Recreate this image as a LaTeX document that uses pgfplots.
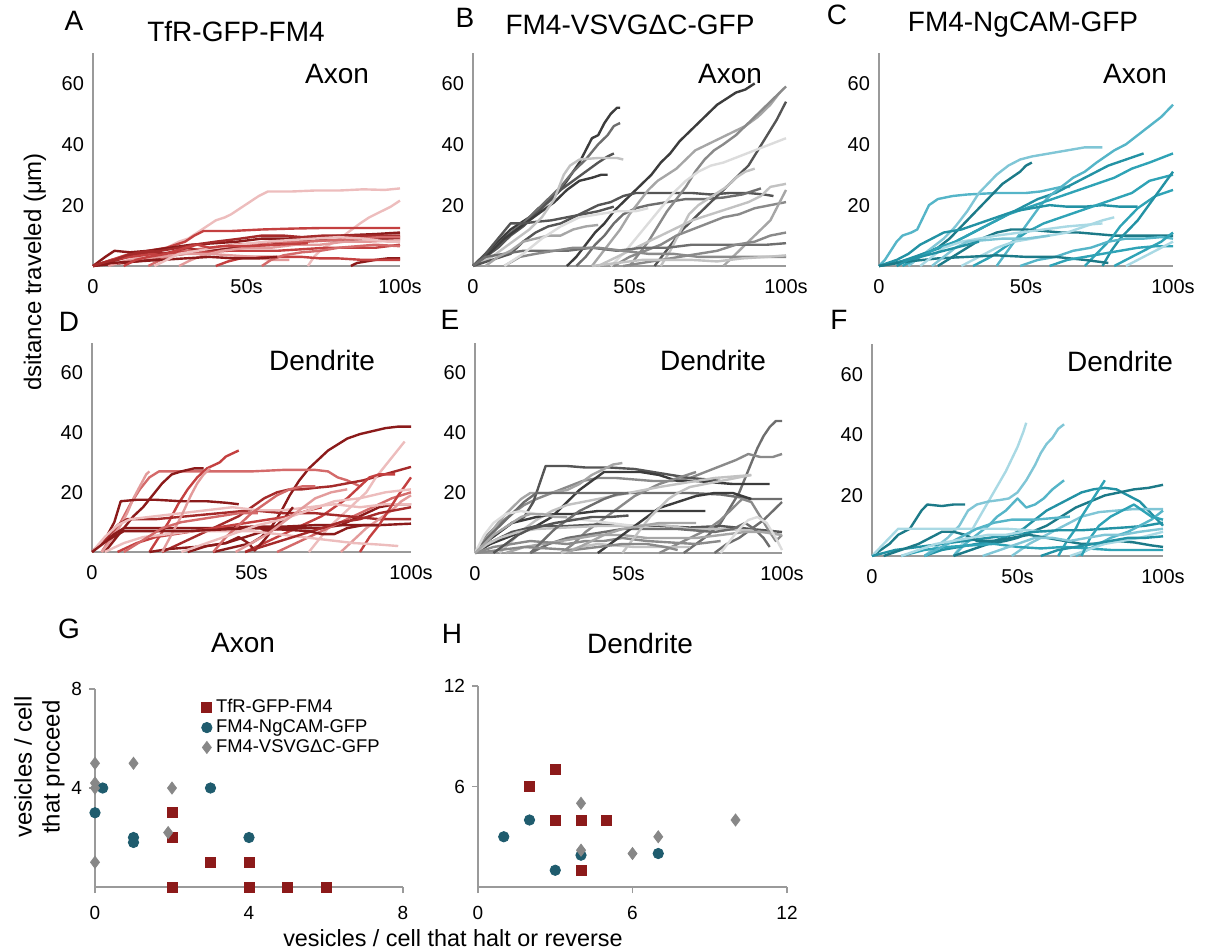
\documentclass[border=0pt]{standalone}
\usepackage{fontspec}
\setmainfont{Liberation Sans}
\usepackage{pgfplots}
\pgfplotsset{compat=1.18}

\definecolor{axgray}{HTML}{9A9A9A}
\definecolor{rA}{HTML}{8B1A1A}
\definecolor{rB}{HTML}{A52A2A}
\definecolor{rC}{HTML}{C44040}
\definecolor{rD}{HTML}{D46A6A}
\definecolor{rE}{HTML}{E39B9B}
\definecolor{rF}{HTML}{EDBDBD}
\definecolor{g1}{HTML}{3C3C3C}
\definecolor{g2}{HTML}{555555}
\definecolor{g3}{HTML}{6E6E6E}
\definecolor{g4}{HTML}{8A8A8A}
\definecolor{g5}{HTML}{A6A6A6}
\definecolor{g6}{HTML}{C2C2C2}
\definecolor{g7}{HTML}{DCDCDC}
\definecolor{t1}{HTML}{1C7A88}
\definecolor{t2}{HTML}{2392A4}
\definecolor{t3}{HTML}{2FA3B6}
\definecolor{t4}{HTML}{55B5C8}
\definecolor{t5}{HTML}{80C6D6}
\definecolor{t6}{HTML}{A9D9E4}
\definecolor{sqred}{HTML}{8C1A1A}
\definecolor{circ}{HTML}{1F5C6E}
\definecolor{dia}{HTML}{878787}

\pgfplotsset{
  /pgf/number format/assume math mode=true,
  trace/.style={
    scale only axis, anchor=south west,
    axis x line=bottom, axis y line=left,
    axis line style={-, draw=axgray, line width=1.3pt},
    xmin=0, xmax=100, ymin=0, ymax=70,
    xtick={0,50,100}, xticklabels={0,50s,100s},
    ytick={20,40,60},
    major tick length=0pt,
    tick label style={font=\fontsize{10}{11}\selectfont},
    xticklabel style={yshift=-3pt},
    yticklabel style={xshift=-1pt},
    clip=false,
    every axis plot/.append style={no marks, line width=1.2pt, line join=round},
  },
  sc/.style={
    scale only axis, anchor=south west,
    axis x line=bottom, axis y line=left,
    axis line style={-, draw=axgray, line width=1pt},
    tick style={draw=axgray, line width=0.8pt},
    tick align=outside, major tick length=3pt,
    tick label style={font=\fontsize{9.5}{10}\selectfont},
    xticklabel style={yshift=-3pt},
    clip=false,
  },
}

\begin{document}
\begin{tikzpicture}
\path (0,0) rectangle (606.5pt,475pt);

% ---------- A: TfR axon
\begin{axis}[trace, at={(46.5pt,342pt)}, width=153.5pt, height=106.5pt]
\addplot[rF] coordinates {(0,0)(8,1)(15,3)(20,5)(24,6)(28,8)(31,9)(34,11)(37,13)(40,15)(43,16)(45,17)(48,19)(51,21)(54,23)(57,24.5)(65,24.5)(72,24.8)(80,24.8)(88,25.2)(95,25)(100,25.5)};
\addplot[rF] coordinates {(70,0)(72,3)(75,6)(79,8)(83,11)(87,14)(90,16)(94,18)(97,19.5)(100,21.5)};
\addplot[rC] coordinates {(0,0)(6,2)(12,4)(18,5)(24,6)(30,8)(33,10)(36,11.5)(45,11.5)(55,12)(65,12.3)(75,12.5)(85,12.5)(100,12.5)};
\addplot[rA] coordinates {(0,0)(4,3)(7,5)(12,4.5)(18,5)(25,6)(32,7)(40,7.5)(47,8)(55,9)(63,9)(70,9.5)(78,9.8)(85,10.2)(92,10.5)(100,11)};
\addplot[rB] coordinates {(0,0)(8,2)(15,4)(22,5)(28,6)(33,7)(40,8)(48,9)(55,10)(62,10)(68,9.5)(75,10)(82,10)(90,10)(100,10)};
\addplot[rA] coordinates {(0,0)(10,1)(18,2)(26,3.5)(34,4.5)(42,5.5)(50,6.5)(58,7)(66,8)(74,8.5)(82,8.5)(90,9)(100,9)};
\addplot[rD] coordinates {(18,0)(22,2)(26,4)(30,5)(38,6)(46,7)(54,7.5)(62,8)(70,8)(78,8.5)(86,9)(94,9.5)(100,9.5)};
\addplot[rC] coordinates {(0,0)(6,2)(12,3)(20,4)(28,4.5)(36,4.5)(44,5)(52,5)(60,5)(68,5.5)(76,6)(84,6)(92,6)(100,7)};
\addplot[rA] coordinates {(84,0)(86,1)(89,1.5)(92,2)(96,2.5)(100,2.5)};
\addplot[rC] coordinates {(40,0)(44,1.5)(50,3)(56,3)(62,3)(68,3)(74,2.5)(80,2.5)(88,2)(100,2)};
\addplot[rE] coordinates {(28,0)(32,2)(36,3.5)(42,5)(50,6)(58,6)(66,7)(74,7)(82,8)(90,8)(100,8.5)};
\addplot[rE] coordinates {(5,0)(10,1.5)(16,2.5)(22,3)(30,4)(38,4)(45,3.5)(52,3)(58,2)(64,2)};
\addplot[rD] coordinates {(55,0)(58,2)(62,3.5)(68,4.5)(74,5)(80,6)(86,6.5)(92,7)(100,6.5)};
\addplot[rA] coordinates {(0,0)(6,1)(14,1.5)(22,2)(30,2.5)(38,3)(46,2.5)(54,2.5)(60,3)};
\addplot[rB] coordinates {(0,0)(3,1)(7,2)(11,3.5)(15,4.5)(19,5)(23,4)(27,5)(31,6)(35,5)};
\addplot[rF] coordinates {(20,0)(24,2)(28,4)(34,5)(40,6)(48,7)(56,8)(64,8.5)(72,9)(80,9.5)(88,9)(96,8)(100,8)};
\addplot[rC] coordinates {(10,0)(14,2)(18,3)(24,4)(30,6)(34,7)(38,6)(42,6.5)(50,6.5)(60,7)(70,7.5)};
\end{axis}

% ---------- B: VSVG axon
\begin{axis}[trace, at={(236.5pt,342pt)}, width=156.5pt, height=106.5pt]
\addplot[g1] coordinates {(0,0)(3,3)(6,6)(9,9)(12,12)(15,14)(18,16)(21,19)(24,21)(27,24)(30,28)(32,31)(34,34)(36,38)(38,42)(40,43)(42,47)(44,50)(46,52)(47,52)};
\addplot[g3] coordinates {(0,0)(4,3)(8,7)(12,11)(16,14)(20,18)(24,22)(28,26)(32,31)(36,35)(40,40)(43,43)(45,46)(47,47)};
\addplot[g2] coordinates {(0,0)(4,3)(8,6)(12,10)(16,13)(20,17)(24,21)(28,25)(32,28)(36,31)(40,34)(43,36)(45,37)};
\addplot[g1] coordinates {(0,0)(5,4)(10,9)(14,12)(18,15)(22,18)(26,21)(30,25)(34,28)(38,29)(41,30)(43,30)};
\addplot[g2] coordinates {(0,0)(4,4)(8,9)(12,14)(16,14)(20,14.5)(25,15)(30,16)(35,17)(40,18)(45,19.5)};
\addplot[g6] coordinates {(0,0)(6,3)(10,6)(14,9)(18,12)(22,16)(26,22)(29,30)(31,33)(34,35)(40,35.5)(46,35.5)(48,35)};
\addplot[g1] coordinates {(30,0)(33,3)(36,7)(39,11)(42,14)(45,18)(48,21)(51,24)(54,27)(57,30)(60,34)(63,37)(66,41)(69,44)(72,47)(75,50)(78,53)(81,55)(84,57)(87,58)(90,60)};
\addplot[g2] coordinates {(0,0)(6,2)(12,4)(16,8)(20,11)(24,13)(28,14)(32,16)(36,18)(40,20)(44,21)(48,23)(52,24)(58,24)(64,24)(70,24)(76,23.5)(82,24)(88,24)(93,23.5)(96,23)};
\addplot[g3] coordinates {(33,0)(36,3)(39,7)(42,10)(45,14)(48,17)(52,19)(56,20)(62,21)(68,22)(74,22)(80,22.5)(86,23.5)(92,25.5)};
\addplot[g5] coordinates {(38,0)(41,4)(44,8)(47,12)(50,17)(53,21)(56,25)(59,28)(62,30)(65,32)(68,35)(71,38)(75,40)(79,42)(83,44)(87,46)(91,49)(95,53)(98,57)};
\addplot[g4] coordinates {(50,0)(53,4)(56,8)(59,13)(62,18)(65,22)(68,26)(71,31)(74,35)(77,38)(80,40)(84,43)(88,47)(92,51)(96,55)(100,59)};
\addplot[g2] coordinates {(58,0)(61,4)(64,8)(67,12)(70,15)(73,18)(76,21)(79,24)(82,27)(85,30)(88,33)(91,38)(94,43)(97,48)(100,54)};
\addplot[g7] coordinates {(44,0)(48,4)(52,9)(56,14)(60,19)(64,24)(68,28)(72,31)(76,33)(80,34)(85,36)(90,38)(95,40)(100,42)};
\addplot[g6] coordinates {(60,0)(63,5)(66,11)(69,17)(72,20)(75,22)(78,24)(81,26)(84,29)(87,31)(90,32)};
\addplot[g6] coordinates {(40,0)(46,3)(52,6)(58,9)(64,12)(70,15)(76,17)(82,19)(88,21)(92,23)(95,26)(100,27)};
\addplot[g4] coordinates {(45,0)(50,3)(55,5)(60,7)(65,10)(70,12)(75,14)(80,16)(85,17)(90,19)(95,20)(100,21)};
\addplot[g5] coordinates {(80,0)(83,3)(86,6)(89,9)(92,12)(95,15)(97,19)(100,25)};
\addplot[g3] coordinates {(0,0)(4,3)(10,4)(16,5)(22,5)(30,5)(38,6)(46,5)(54,6)(62,6)(70,7)(78,7)(86,7)(94,7)(100,7.5)};
\addplot[g4] coordinates {(48,0)(54,1)(60,2)(66,3)(72,4)(78,5)(84,7)(90,8)(95,10)(100,11)};
\addplot[g4] coordinates {(10,0)(15,3)(20,4)(26,5)(32,6)(40,6)(48,5)(56,4)(64,4)(72,3)(80,3)(90,3)(100,3)};
\addplot[g6] coordinates {(38,0)(46,1)(54,2)(62,2)(70,2)(78,1.5)(86,2.5)(94,3)(100,3.5)};
\addplot[g5] coordinates {(4,0)(8,3)(12,5)(16,8)(20,9)(24,10)(28,10)(32,12)(36,13)(40,13.5)};
\addplot[g7] coordinates {(10,0)(16,4)(22,9)(28,13)(34,16)(40,17)(46,18)(52,18)(56,19)};
\end{axis}

% ---------- C: NgCAM axon
\begin{axis}[trace, at={(439.5pt,342pt)}, width=147pt, height=106.5pt]
\addplot[t4] coordinates {(0,0)(2,2)(4,5)(6,8)(8,10)(11,11)(13,12)(15,16)(17,20)(20,22)(25,23)(30,23.5)(40,24)(50,24)(55,24.5)(62,26)(65,26)};
\addplot[t1] coordinates {(0,0)(5,1)(10,2)(15,4)(20,6)(24,9)(28,13)(32,17)(36,21)(39,24)(42,27)(45,29)(48,31)(50,33)(52,34)};
\addplot[t5] coordinates {(10,0)(14,3)(18,6)(22,9)(26,13)(30,18)(34,24)(37,27)(40,30)(44,33)(48,35)(52,36)(58,37)(64,38)(70,39)(76,39)};
\addplot[t2] coordinates {(0,0)(6,1)(12,3)(18,5)(24,7)(30,10)(36,13)(42,16)(48,19)(54,22)(60,24)(66,27)(72,30)(78,33)(84,35)(90,37)};
\addplot[t4] coordinates {(40,0)(43,4)(46,8)(49,12)(52,16)(55,20)(58,23)(62,26)(66,29)(70,31)(74,34)(77,36)(80,38)(84,40)(88,43)(92,46)(96,49)(100,53)};
\addplot[t3] coordinates {(8,0)(14,3)(20,6)(26,8)(32,11)(38,14)(44,17)(50,19)(56,21)(62,23)(68,25)(74,27)(80,29)(86,32)(92,34)(100,37)};
\addplot[t2] coordinates {(0,0)(6,2)(10,4)(14,7)(18,9)(22,11)(28,12)(34,14)(40,16)(46,18)(52,19)(58,20)(64,19.5)(70,19.5)(76,20)(82,19.5)(88,19.5)};
\addplot[t3] coordinates {(32,0)(38,3)(44,7)(50,11)(56,14)(62,16)(68,18)(74,20)(80,22)(86,24)(92,28)(96,29)(100,30)};
\addplot[t1] coordinates {(20,0)(25,3)(30,6)(35,9)(40,11)(45,12)(50,12)(56,11.5)(62,11)(68,11)(74,10.5)(80,10)(86,10)(92,10)(100,10)};
\addplot[t3] coordinates {(70,0)(73,3)(76,6)(79,9)(82,13)(85,16)(88,19)(91,21)(94,23)(97,24)(100,25)};
\addplot[t2] coordinates {(76,0)(79,5)(82,9)(85,12)(88,15)(91,19)(94,23)(97,27)(100,31)};
\addplot[t6] coordinates {(28,0)(34,3)(40,6)(46,8)(52,9)(58,10)(64,11)(70,13)(76,15)(80,16)};
\addplot[t4] coordinates {(48,0)(54,2)(60,3)(66,5)(72,6)(78,8)(84,9)(90,9)(96,9.5)(100,9)};
\addplot[t1] coordinates {(0,0)(10,1.5)(20,2.5)(30,3)(40,3.5)(50,3)(60,3)(70,2)(78,1)};
\addplot[t3] coordinates {(58,0)(64,2)(70,3)(76,4)(82,5)(88,6)(94,6.5)(100,6.5)};
\addplot[t6] coordinates {(14,0)(18,3)(22,6)(28,8)(34,9)(40,10)(48,11)(56,12)(64,13)(70,13.5)(76,14)};
\addplot[t3] coordinates {(80,0)(84,2)(88,4)(92,6)(96,8)(100,11)};
\addplot[t5] coordinates {(18,0)(22,3)(26,6)(30,8)(36,8.5)(42,9)(50,9)(58,10)};
\addplot[t6] coordinates {(84,0)(88,2)(92,4)(96,6)(100,8)};
\addplot[t2] coordinates {(6,0)(10,2)(14,3)(18,4)(22,5)(26,6)(30,7)(34,8)};
\end{axis}

% ---------- D: TfR dendrite
\begin{axis}[trace, at={(46pt,199pt)}, width=159.5pt, height=104.5pt]
\addplot[rA] coordinates {(38,0)(42,1)(46,2)(50,3)(53,5)(56,8)(59,13)(62,19)(65,24)(68,28)(71,31)(74,34)(77,36)(80,38)(84,39.5)(88,40.5)(92,41.5)(96,42)(100,42)};
\addplot[rD] coordinates {(3,0)(6,5)(9,10)(12,16)(15,21)(18,25)(21,27)(25,27)(30,27)(40,27)(50,27)(60,27.5)(70,27.5)(74,27)(77,25)(80,24)(84,22)};
\addplot[rC] coordinates {(18,0)(21,5)(24,10)(27,16)(30,21)(33,25)(36,28)(38,29)(40,30)(42,32)(44,33)(46,34)};
\addplot[rA] coordinates {(4,0)(7,4)(10,8)(13,12)(16,15)(19,19)(22,23)(25,26)(28,27)(32,28)(35,28)};
\addplot[rE] coordinates {(3,0)(6,4)(9,9)(11,13)(13,18)(15,22)(17,26)(18,27)};
\addplot[rA] coordinates {(0,0)(4,4)(7,10)(9,17)(14,17.5)(20,17.5)(28,17)(36,17)(42,16.5)(46,16)};
\addplot[rB] coordinates {(22,0)(28,3)(34,6)(40,9)(46,12)(50,15)(54,18)(58,20)(62,21)(66,21)(70,21.5)(75,22)(80,23)(85,24)(90,25.5)(95,27)(100,28.5)};
\addplot[rF] coordinates {(68,0)(71,4)(74,8)(77,11)(80,14)(83,17)(86,20)(89,25)(92,29)(95,33)(98,37)};
\addplot[rC] coordinates {(48,0)(54,3)(60,6)(66,9)(72,12)(76,15)(80,18)(84,22)(87,25)(90,26)(95,26)};
\addplot[rA] coordinates {(0,0)(3,3)(7,6)(10,8)(20,8)(30,8)(40,8)(50,8.5)(60,8.5)(70,9)(80,9)(90,9)(100,9.5)};
\addplot[rA] coordinates {(18,0)(24,1)(30,1.5)(36,2)(42,3)(48,5)(54,7)(60,8)(66,8)(72,8)(78,9)(82,11)(86,13)(90,15)(95,16)(100,16)};
\addplot[rD] coordinates {(58,0)(64,3)(70,6)(76,9)(82,12)(88,15)(94,18)(100,20)};
\addplot[rB] coordinates {(0,0)(4,4)(8,9)(11,11)(20,11)(30,12)(40,13)(50,14)(60,13)(70,13)(80,12)(90,11)(100,11)};
\addplot[rF] coordinates {(0,0)(4,5)(8,9)(12,11)(20,12)(28,13)(36,14)(44,15)(52,14)(60,14)(68,15)(76,16)(84,15)(92,16)(100,16)};
\addplot[rE] coordinates {(78,0)(82,4)(86,8)(90,11)(94,14)(97,17)(100,19)};
\addplot[rC] coordinates {(84,0)(87,5)(90,9)(93,14)(96,19)(100,25)};
\addplot[rA] coordinates {(30,0)(36,2)(42,3)(46,5)(49,3)(51,0.5)(54,4)(57,8)(60,11)(63,15)};
\addplot[rC] coordinates {(8,0)(14,3)(20,5)(26,6)(32,7)(38,8)(44,9)(50,10)(56,11)(62,12)(68,14)(72,15)};
\addplot[rF] coordinates {(4,0)(10,3)(16,5)(24,6)(32,7)(40,7)(50,7)(58,6)(66,5)(74,4)(82,3)(90,2.5)(96,2)};
\addplot[rD] coordinates {(38,0)(42,5)(46,9)(50,13)(54,16)(58,19)(62,21)(66,22)(70,22)};
\addplot[rE] coordinates {(22,0)(25,6)(28,12)(31,19)(33,23)(35,26)(37,28)};
\addplot[rB] coordinates {(48,0)(54,2)(60,4)(66,6)(72,8)(78,10)(84,11)(90,13)(95,14)(100,15)};
\addplot[rA] coordinates {(0,0)(5,4)(10,7)(20,7)(30,7)(40,7.5)(50,8)(60,7.5)(68,7)(72,6)(76,6)(80,8)(85,9)(90,9)};
\addplot[rF] coordinates {(28,0)(36,3)(44,6)(52,9)(60,11)(68,14)(76,17)(84,18)(92,20)(100,21)};
\addplot[rD] coordinates {(10,0)(16,4)(22,8)(28,10)(34,11)(40,12)(46,13)(52,13)};
\addplot[rE] coordinates {(45,0)(50,3)(55,6)(60,10)(65,14)(70,18)(75,20)(80,21)};
\end{axis}

% ---------- E: VSVG dendrite
\begin{axis}[trace, at={(237.5pt,198.5pt)}, width=153.5pt, height=105pt]
\addplot[g3] coordinates {(68,0)(72,3)(76,6)(80,10)(83,15)(86,20)(88,25)(90,30)(92,35)(94,39)(96,42)(98,44)(100,44)};
\addplot[g4] coordinates {(0,0)(4,6)(8,10)(12,13)(16,16)(20,18)(25,20)(30,22)(35,24)(40,25)(46,25)(52,24.5)(58,24)(64,24)(70,25)(75,27)(80,29)(85,31)(89,33)(93,32)(97,32)(100,33)};
\addplot[g2] coordinates {(0,0)(4,4)(8,7)(12,10)(16,12)(19,17)(21,23)(23,29)(30,29)(36,28.5)(44,28.5)(52,28)(58,27)(64,26)(70,25)(76,24.5)(80,24)};
\addplot[g1] coordinates {(0,0)(5,3)(10,5)(15,7)(20,9)(25,12)(28,15)(31,18)(34,21)(38,24)(42,27)(48,27)(54,27)(60,26)(66,24)(72,24)(78,23.5)(84,23)(90,23)(96,23)};
\addplot[g5] coordinates {(0,0)(3,4)(6,8)(9,12)(12,15)(15,18)(18,20)(24,20)(30,21)(34,23)(38,26)(42,28)(45,29.5)(48,30)};
\addplot[g3] coordinates {(0,0)(4,5)(8,9)(12,13)(16,17)(20,20)(30,20)(40,20)(50,20)(60,20)(70,20)(80,19.5)(90,18)(100,18)};
\addplot[g4] coordinates {(28,0)(32,3)(36,7)(40,10)(44,13)(48,16)(52,19)(56,21)(60,23)(66,25)(72,27)};
\addplot[g6] coordinates {(8,0)(12,4)(16,8)(20,11)(25,14)(30,16)(35,17)(40,18)(45,19)(50,20)(55,21)(60,22)(66,23)(72,24)(78,25)(84,25.5)(90,26)};
\addplot[g1] coordinates {(0,0)(4,4)(8,7)(12,10)(16,11)(20,12)(26,13)(32,13)(40,14)(48,14)(56,14)(64,14)(70,14)(75,14)};
\addplot[g2] coordinates {(0,0)(4,3)(8,5)(12,7)(16,8)(20,9)(30,9)(40,9.5)(50,9)(60,9)(70,8.5)(80,9)(90,8)(100,7)};
\addplot[g4] coordinates {(60,0)(64,2)(68,4)(72,6)(76,8)(80,11)(84,15)(87,18)(90,17)(93,12)(96,7)(98,4)(100,6)};
\addplot[g3] coordinates {(78,0)(82,3)(86,5)(90,8)(94,11)(97,14)(100,17)};
\addplot[g6] coordinates {(0,0)(4,3)(8,5)(14,7)(20,8)(30,8.5)(40,9)(50,9)(60,9.5)(70,8)(80,8)(90,7.5)(100,6)};
\addplot[g7] coordinates {(0,0)(3,6)(6,10)(10,13)(15,14)(20,13)(28,12)(36,11)(44,10)(52,9)(60,8)};
\addplot[g3] coordinates {(18,0)(24,3)(30,5)(36,6)(42,7)(48,8)(54,8)(60,8)(66,8)(72,7.5)(78,7)(84,8)(88,10)(91,8)(94,5)(96,2)};
\addplot[g5] coordinates {(10,0)(16,2)(22,3)(28,4)(34,5)(40,6)(48,6)(56,5)(64,5)(72,5)(80,6)(88,7)(94,7)(100,6)};
\addplot[g4] coordinates {(0,0)(6,2)(12,3)(18,4)(24,3.5)(30,3)(36,4)(42,4)(48,5)(56,4)(64,3.5)(72,3)(80,4)};
\addplot[g6] coordinates {(28,0)(34,2)(40,3)(46,2.5)(52,2)(60,2)(70,2)};
\addplot[g1] coordinates {(40,0)(44,3)(48,6)(52,9)(56,12)(60,15)(66,17)(72,19)(78,20)(84,20)(90,18)};
\addplot[g6] coordinates {(48,0)(51,4)(54,8)(57,12)(60,15)(63,18)(66,20)(70,22)(75,23)(80,24)(85,25)(90,26)};
\addplot[g3] coordinates {(18,0)(22,4)(26,8)(30,11)(34,14)(38,16)(42,18)(46,19.5)(50,20)};
\addplot[g7] coordinates {(80,0)(83,4)(86,8)(89,11)(92,12)(95,10)(98,5)(100,1)};
\addplot[g4] coordinates {(0,0)(8,1)(16,2)(24,1.5)(32,1)(40,2)(48,3)(56,3)(62,2)(66,1)};
\addplot[g5] coordinates {(0,0)(3,3)(6,6)(9,8)(12,10)(15,12)(18,13)(22,13)(26,12)(30,12)};
\addplot[g2] coordinates {(6,0)(10,3)(14,6)(18,8)(22,9)(26,10)(32,11)(38,12)(44,12)(50,12.5)};
\addplot[g5] coordinates {(30,0)(36,3)(42,6)(48,8)(54,9)(60,10)(66,10)(72,10)};
\end{axis}

% ---------- F: NgCAM dendrite
\begin{axis}[trace, at={(436pt,197pt)}, width=145.5pt, height=106pt]
\addplot[t6] coordinates {(28,0)(31,4)(34,8)(37,13)(40,18)(43,23)(46,28)(48,32)(50,36)(52,41)(53,44)};
\addplot[t5] coordinates {(18,0)(22,3)(26,6)(30,10)(33,15)(36,17)(40,18)(44,18.5)(47,19)(50,21)(53,25)(56,30)(58,34)(60,37)(62,39)(64,42)(66,43.5)};
\addplot[t1] coordinates {(0,0)(3,2)(6,4)(9,7)(11,8)(13,9)(15,12)(17,15)(19,17)(24,16.5)(28,17)(32,17)};
\addplot[t4] coordinates {(28,0)(32,4)(36,7)(40,10)(43,13)(46,15)(48,17)(50,19)(53,16)(56,17)(59,19)(62,22)(66,25)};
\addplot[t2] coordinates {(18,0)(24,2)(30,3)(36,4)(42,5)(48,7)(52,9)(56,12)(60,15)(64,17)(68,19)(72,21)(76,22)(80,22.5)(84,22)(88,20)(92,18)(95,15)(98,12)(100,10)};
\addplot[t1] coordinates {(28,0)(34,2)(40,4)(46,5)(50,6)(55,8)(60,10)(65,13)(70,16)(75,18)(80,20)(85,21)(90,22)(95,22.5)(100,23.5)};
\addplot[t6] coordinates {(0,0)(3,3)(6,6)(9,9)(15,9)(22,9)(30,9)(38,9)(46,9)(54,8.5)(60,8)};
\addplot[t5] coordinates {(48,0)(54,4)(60,7)(66,10)(72,13)(78,14.5)(84,15)(90,15.5)(95,15.5)(100,15.5)};
\addplot[t3] coordinates {(64,0)(67,5)(70,9)(72,13)(74,16)(76,19)(78,22)(80,25)};
\addplot[t2] coordinates {(0,0)(8,2)(16,3)(24,4)(32,5)(40,6)(48,7)(56,8)(64,8.5)(72,8.5)(80,9)(88,9.5)(94,10)(100,11)};
\addplot[t1] coordinates {(4,0)(10,2)(16,4)(20,6)(24,8)(28,8)(32,7)(36,5)(42,5)(48,6)(54,7)(60,6)(66,5)(72,4)(78,4)(84,5)(90,4.5)(96,3.5)(100,3)};
\addplot[t4] coordinates {(70,0)(76,3)(82,6)(88,8)(92,10)(96,12)(100,15)};
\addplot[t3] coordinates {(10,0)(18,2)(26,3)(34,3.5)(42,4)(50,3)(58,2.5)(66,3)(74,2.5)(82,2)(90,2)(100,2)};
\addplot[t4] coordinates {(18,0)(24,3)(30,6)(36,9)(42,11)(48,12)(56,12)(62,12.5)(68,13)};
\addplot[t6] coordinates {(68,0)(74,2)(80,4)(86,5)(92,6)(100,8)};
\addplot[t3] coordinates {(72,0)(75,6)(78,10)(82,13)(86,15)(90,17)(93,15)(96,13)(100,12)};
\addplot[t5] coordinates {(38,0)(44,2)(50,4)(56,6)(62,6)(68,5)(74,6)(80,7)(86,7)(92,8)(100,9)};
\addplot[t2] coordinates {(58,0)(64,2)(70,3)(76,4)(82,5)(88,6)(94,6)(100,6.5)};
\addplot[t6] coordinates {(10,0)(16,2)(22,4)(28,5)(34,6)(40,7)(46,7)(52,8)};
\end{axis}

% ---------- G: axon scatter
\begin{axis}[sc, at={(47.5pt,31.5pt)}, width=154pt, height=99pt,
  xmin=0, xmax=8, ymin=0, ymax=8, xtick={0,4,8}, ytick={4,8},
  legend style={at={(0.345,0.97)}, anchor=north west, draw=none, fill=none,
    font=\fontsize{9.2}{10}\selectfont, row sep=-2pt, inner sep=0pt},
  legend cell align=left]
\addplot[only marks, mark=square*, mark size=2.5pt, color=sqred] coordinates {(2,3)(2,2)(3,1)(4,1)(2,0)(4,0)(5,0)(6,0)};
\addlegendentry{TfR-GFP-FM4}
\addplot[only marks, mark=*, mark size=2.6pt, color=circ] coordinates {(0.2,4)(0,3)(1,2)(1,1.8)(3,4)(4,2)};
\addlegendentry{FM4-NgCAM-GFP}
\addplot[only marks, mark=diamond*, mark size=3pt, color=dia] coordinates {(0,5)(0,4.2)(0,4)(0,1)(1,5)(2,4)(1.9,2.2)};
\addlegendentry{FM4-VSVGΔC-GFP}
\end{axis}

% ---------- H: dendrite scatter
\begin{axis}[sc, at={(239pt,31.5pt)}, width=154.5pt, height=100.5pt,
  xmin=0, xmax=12, ymin=0, ymax=12, xtick={0,6,12}, ytick={6,12}]
\addplot[only marks, mark=square*, mark size=2.5pt, color=sqred] coordinates {(2,6)(3,7)(3,4)(4,4)(5,4)(4,1)};
\addplot[only marks, mark=*, mark size=2.6pt, color=circ] coordinates {(1,3)(2,4)(3,1)(4,1.9)(7,2)};
\addplot[only marks, mark=diamond*, mark size=3pt, color=dia] coordinates {(4,5)(4,2.2)(6,2)(7,3)(10,4)};
\end{axis}

% ---------- texts
\begin{scope}[every node/.style={inner sep=0pt, font=\fontsize{14}{16}\selectfont}]
\node at (37pt,464.5pt) {A};
\node at (118pt,459pt) {TfR-GFP-FM4};
\node at (168.5pt,438pt) {Axon};
\node at (232.5pt,466pt) {B};
\node at (315pt,462.5pt) {FM4-VSVGΔC-GFP};
\node at (365pt,438pt) {Axon};
\node at (418.5pt,467.5pt) {C};
\node at (511.5pt,462.5pt) {FM4-NgCAM-GFP};
\node at (567.5pt,438pt) {Axon};
\node at (34.5pt,314pt) {D};
\node at (161pt,295pt) {Dendrite};
\node at (225pt,315pt) {E};
\node at (356.5pt,295pt) {Dendrite};
\node at (419.5pt,315pt) {F};
\node at (560pt,294.5pt) {Dendrite};
\node[font=\fontsize{12}{14}\selectfont, rotate=90] at (17.5pt,339pt) {dsitance traveled (μm)};
\node at (34.5pt,160.5pt) {G};
\node at (121.5pt,153.5pt) {Axon};
\node at (226pt,158pt) {H};
\node at (320pt,153.5pt) {Dendrite};
\node[font=\fontsize{12}{14}\selectfont, rotate=90, align=center] at (19.75pt,91.5pt) {vesicles / cell\\that proceed};
\node[font=\fontsize{11.7}{14}\selectfont] at (226.5pt,6pt) {vesicles / cell that halt or reverse};
\end{scope}
\end{tikzpicture}
\end{document}
